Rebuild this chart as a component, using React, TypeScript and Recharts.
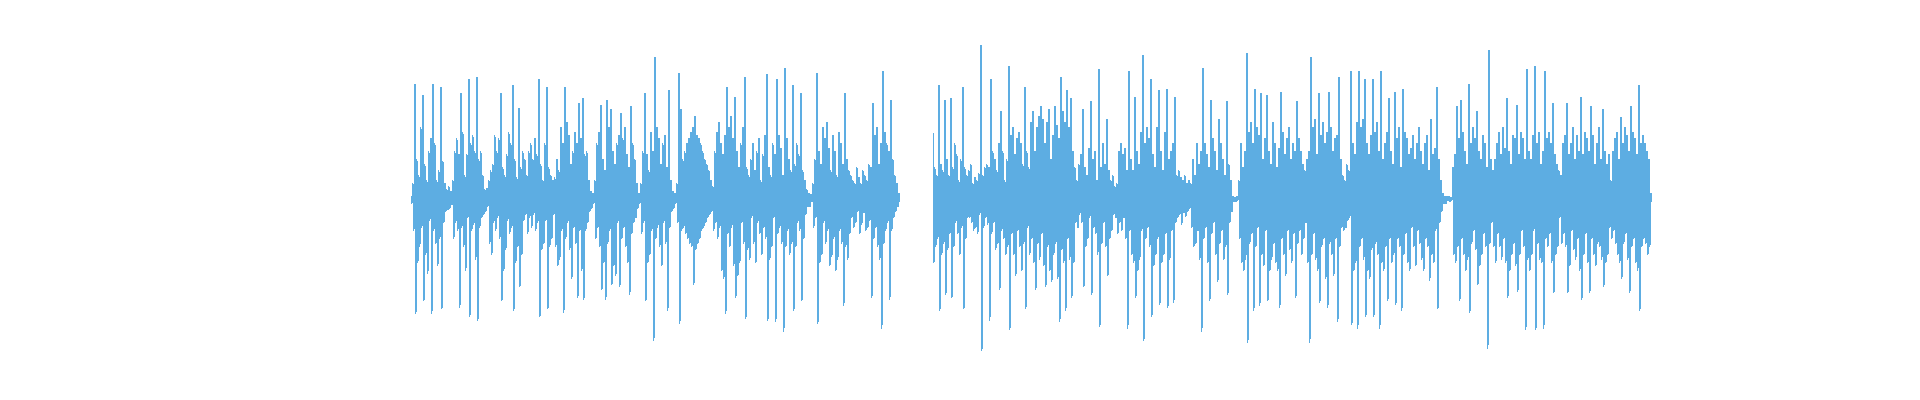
import { LineChart, Line, XAxis, YAxis } from "recharts";

// ── waveform samples, one list per spoken chunk (amplitude, -100..100, one per pixel column) ──
const word1 = [
  2, -3, 10, -20, 72, -72, 25, -40, 15, -30, 45, -18, 65, -64, 22, -35, 12, -47, 30, -14,
  38, -72, 72, -20, 35, -28, 12, -42, 18, -25, 70, -69, 24, -15, 10, -8,
  6, -7, 8, -6, 5, -4,
  12, -25, 30, -15, 38, -20, 28, -68, 66, -18, 42, -30, 15, -45, 28, -12,
  75, -74, 35, -20, 40, -16, 30, -38, 76, -76, 25, -18, 30, -12, 15, -10,
  6, -8, 7, -5,
];
const word2 = [
  12, -28, 18, -35, 22, -15, 40, -20, 30, -12, 38, -25, 66, -64, 20, -45, 15, -32, 28, -14,
  42, -22, 35, -18, 71, -70, 25, -40, 14, -30, 57, -55, 20, -35, 30, -14, 25, -10,
  15, -22, 30, -12, 35, -18, 25, -10, 38, -20, 28, -15, 75, -74, 22, -32, 12, -28, 35, -14,
  70, -69, 20, -30, 15, -25, 12, -10,
  14, -30, 25, -42, 18, -38, 45, -20, 35, -71, 70, -25, 48, -15, 40, -32, 22, -50, 30, -18,
  42, -28, 35, -62, 60, -20, 38, -45, 63, -63, 28, -20, 30, -15, 12, -8,
  5, -6, 4, -3,
];
const word3 = [
  12, -25, 35, -18, 42, -30, 59, -57, 25, -40, 18, -63, 62, -28, 45, -20, 56, -54, 30, -42,
  22, -48, 35, -15, 40, -55, 54, -25, 38, -18, 45, -30, 28, -40, 20, -60, 58, -22, 35, -15,
  25, -12, 10, -6,
  4, -3,
  10, -22, 30, -15, 66, -64, 28, -40, 18, -35, 42, -20, 30, -89, 89, -25, 45, -18, 38, -30,
  22, -42, 35, -15, 40, -28, 20, -70, 68, -18, 12, -8,
  5, -6, 4, -3,
];
const word4 = [
  10, -15, 79, -78, 56, -20, 25, -18, 30, -22, 35, -25, 38, -28, 42, -30, 45, -54, 52, -32,
  40, -28, 38, -25, 35, -20, 30, -18, 25, -15, 22, -12, 18, -10, 12, -8,
  8, -20, 30, -15, 42, -25, 48, -18, 35, -45, 28, -50, 40, -72, 70, -22, 45, -30, 52, -18,
  38, -42, 64, -62, 30, -48, 20, -40, 35, -15, 45, -28, 76, -75,
  20, -32, 15, -38, 25, -12, 35, -28, 18, -40, 30, -15, 38, -22, 12, -35, 28, -18, 40, -25,
  78, -76, 20, -38, 15, -30, 35, -12, 28, -77, 75, -22, 40, -18, 32, -28, 15, -83, 82, -30,
  38, -20, 25, -35, 18, -28, 71, -70, 22, -30, 35, -15, 28, -20, 66, -64, 18, -25, 12, -10,
  6, -5, 4, -5, 3, -2,
];
const word5 = [
  10, -18, 25, -12, 79, -78, 30, -40, 22, -35, 45, -15, 38, -28, 48, -20, 32, -42, 18, -36,
  40, -25, 30, -45, 15, -38, 42, -20, 35, -28, 22, -67, 66, -30, 25, -38, 18, -22, 15, -12,
  12, -18, 10, -15, 20, -8, 14, -22, 10, -16, 18, -9, 15, -20, 12, -18, 22, -14,
  20, -62, 60, -25, 40, -18, 45, -30, 22, -38, 35, -81, 80, -28, 42, -20, 35, -15, 30, -63,
  62, -20, 25, -12, 15, -8, 10, -5, 4, -2,
];
const pause: (number | null)[] = Array(32).fill(null);
const word6 = [
  41, -40, 20, -30, 15, -25, 71, -70, 22, -35, 18, -28, 62, -60, 25, -32, 15, -22, 63, -62,
  20, -30, 35, -15, 28, -22, 12, -35, 25, -18, 70, -69, 20, -25, 15, -12,
  18, -12, 22, -15, 10, -20, 14, -18, 12, -22, 16, -10, 96, -95, 15, -18, 20, -12, 22, -16,
  20, -76, 75, -22, 30, -15, 25, -32, 18, -28, 35, -57, 55, -20, 30, -25, 12, -35,
];
const word7 = [
  25, -30, 83, -82, 40, -22, 45, -35, 28, -48, 38, -20, 42, -30, 35, -45, 22, -28, 70, -69,
  30, -18,
  20, -35, 48, -25, 55, -40, 30, -57, 45, -28, 52, -38, 58, -22, 50, -42, 35, -55, 48, -30,
  56, -45, 25, -52, 40, -35, 58, -28, 46, -50, 38, -77, 76, -32, 55, -40, 48, -70, 68, -25,
  45, -38, 63, -62, 30, -40, 20, -15,
  12, -18, 22, -10, 28, -15, 56, -55, 20, -30, 15, -25, 32, -12, 61, -60, 25, -18, 30, -22,
  12, -35, 81, -80, 20, -28, 35, -15, 22, -30, 50, -48, 18, -25, 12, -20, 15, -10, 8, -12,
  10, -22, 30, -15, 35, -20, 28, -12, 32, -25, 18, -81, 80, -20,
];
const word8 = [
  25, -35, 18, -40, 64, -62, 30, -45, 22, -38, 42, -20, 90, -89, 35, -25, 45, -18, 38, -30,
  75, -74, 28, -42, 20, -35, 45, -25, 68, -66, 30, -40, 18, -35, 42, -22, 69, -68, 25, -38,
  30, -20, 35, -65, 64, -15,
  15, -12, 18, -10, 14, -16, 12, -9, 15, -11, 10, -8, 12, -6,
  10, -18, 25, -30, 15, -28, 35, -20, 22, -38, 30, -83, 82, -25, 35, -18, 28, -40, 20, -64,
  62, -22, 38, -15, 30, -35, 18, -52, 50, -28, 35, -20, 25, -38, 15, -30, 61, -60, 22, -15,
  12, -8,
  2, -2, 1, -2, 2, -1,
];
const word9 = [
  12, -25, 35, -40, 20, -45, 30, -38, 91, -90, 42, -28, 48, -22, 35, -70, 69, -30, 45, -18,
  40, -67, 66, -35, 25, -42, 38, -20, 65, -64, 30, -45, 22, -38, 48, -28, 35, -40, 20, -45,
  32, -68, 67, -25, 42, -35, 28, -48, 38, -20, 45, -32, 25, -40, 35, -22, 30, -62, 61, -28,
  38, -20, 30, -35, 22, -25, 18, -15,
  25, -40, 30, -90, 89, -35, 45, -22, 50, -38, 28, -45, 66, -65, 40, -30, 48, -25, 35, -50,
  42, -68, 67, -28, 45, -35, 30, -48, 38, -25, 40, -77, 76, -30, 25, -18,
  15, -20, 12, -18, 22, -14, 18, -12,
  80, -79, 35, -45, 28, -40, 48, -81, 80, -30, 45, -25, 50, -38, 75, -74, 35, -45, 28, -50,
  40, -32, 75, -74, 42, -28, 48, -35, 30, -81, 80, -40, 25, -45, 35, -30, 42, -64, 63, -25,
];
const word10 = [
  30, -40, 22, -35, 67, -66, 38, -25, 45, -30, 20, -70, 69, -35, 42, -22, 38, -40, 28, -45,
  32, -18, 40, -30, 25, -42, 35, -20, 45, -28, 30, -38, 22, -45, 35, -25, 40, -30, 18, -51,
  50, -35, 28, -40, 32, -20, 70, -69, 25, -15, 12, -8,
  4, -3, 2, -3, 2, -1, 2, -2, 1, -1,
];
const word11 = [
  20, -35, 28, -40, 58, -30, 38, -64, 62, -25, 42, -35, 30, -45, 22, -38, 72, -71, 35, -28,
  45, -20, 38, -32, 55, -54, 30, -42, 25, -35, 40, -22, 35, -30, 20, -94, 93, -28, 25, -15,
  18, -30, 25, -40, 35, -22, 42, -30, 28, -38, 45, -25, 32, -40, 63, -62, 30, -45, 22, -35,
  40, -28, 38, -42, 59, -58, 28, -35, 42, -20, 38, -30, 25, -82, 81, -38, 30, -45, 25, -35,
  40, -20, 83, -82, 35, -28, 42, -38, 22, -40, 30, -81, 80, -25, 38, -30, 42, -22, 35, -40,
  60, -59, 28, -35, 22, -30, 18, -12,
];
const word12 = [
  15, -28, 35, -22, 40, -30, 60, -59, 28, -42, 35, -20, 45, -32, 25, -38, 40, -25, 30, -45,
  64, -63, 28, -35, 42, -22, 38, -40, 30, -59, 58, -25, 40, -35, 22, -42, 35, -28, 45, -30,
  25, -38, 56, -55, 30, -40, 22, -35, 28, -18,
  12, -25, 30, -20, 38, -28, 42, -35, 25, -40, 51, -50, 35, -28, 45, -22, 40, -38, 30, -59,
  58, -30, 42, -25, 38, -40, 28, -45, 71, -70, 35, -30, 40, -25, 35, -28, 30, -35, 25, -30,
  4, -2,
];

const samples: (number | null)[] = [
  ...word1, ...word2, ...word3, ...word4, ...word5,
  ...pause,
  ...word6, ...word7, ...word8, ...word9, ...word10, ...word11, ...word12,
];

const data = samples.map((v, i) => ({ i, v }));

export default function App() {
  return (
    <LineChart
      width={1904}
      height={392}
      data={data}
      margin={{ top: 31, right: 260, bottom: 41, left: 403 }}
    >
      <XAxis type="number" dataKey="i" domain={[0, samples.length - 1]} hide />
      <YAxis type="number" domain={[-100, 100]} hide />
      <Line
        type="linear"
        dataKey="v"
        stroke="#5dade2"
        strokeWidth={1}
        shapeRendering="crispEdges"
        dot={false}
        connectNulls={false}
        isAnimationActive={false}
      />
    </LineChart>
  );
}
